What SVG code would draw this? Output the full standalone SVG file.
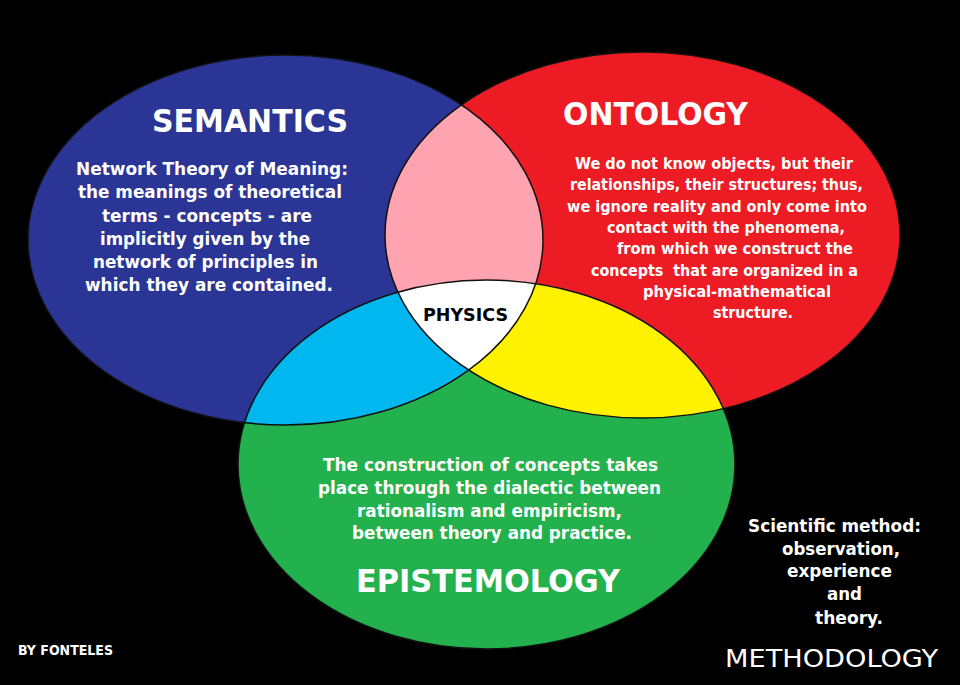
<svg xmlns="http://www.w3.org/2000/svg" width="960" height="685" viewBox="0 0 960 685">
<style>
.t{font-family:"DejaVu Sans Condensed","DejaVu Sans",sans-serif;font-weight:bold;fill:#ffffff;white-space:pre}
.h{font-size:32px}
.b18{font-size:18px}
.b16{font-size:16.5px}
.b17{font-size:17px}
.ph{fill:#000000}
.reg{font-weight:normal;font-size:25px}
.sm{font-size:13.5px}
.outline{fill:none;stroke:#111111;stroke-width:1.5}
</style>
<defs>
<clipPath id="cBlue"><ellipse cx="285.5" cy="240" rx="257.5" ry="185"/></clipPath>
<clipPath id="cRed"><ellipse cx="642.5" cy="235" rx="257.5" ry="183"/></clipPath>
</defs>
<rect x="0" y="0" width="960" height="685" fill="#000000"/>

<g id="semantics">
<ellipse cx="285.5" cy="240" rx="257.5" ry="185" fill="#2B3595"/>
</g>
<g id="ontology">
<ellipse cx="642.5" cy="235" rx="257.5" ry="183" fill="#ED1C24"/>
</g>
<g id="epistemology">
<ellipse cx="486.5" cy="464.5" rx="248.5" ry="184.5" fill="#22B14C"/>
</g>
<g id="semantics-ontology" clip-path="url(#cBlue)">
<ellipse cx="642.5" cy="235" rx="257.5" ry="183" fill="#FFA3B1"/>
</g>
<g id="semantics-epistemology" clip-path="url(#cBlue)">
<ellipse cx="486.5" cy="464.5" rx="248.5" ry="184.5" fill="#00B7EF"/>
</g>
<g id="ontology-epistemology" clip-path="url(#cRed)">
<ellipse cx="486.5" cy="464.5" rx="248.5" ry="184.5" fill="#FFF200"/>
</g>
<g id="physics">
<g clip-path="url(#cBlue)"><g clip-path="url(#cRed)">
<ellipse cx="486.5" cy="464.5" rx="248.5" ry="184.5" fill="#FFFFFF"/>
</g></g>
</g>
<g id="connectors">
<ellipse class="outline" cx="285.5" cy="240" rx="257.5" ry="185"/>
<ellipse class="outline" cx="642.5" cy="235" rx="257.5" ry="183"/>
<ellipse class="outline" cx="486.5" cy="464.5" rx="248.5" ry="184.5"/>
</g>

<g id="semantics-text">
<text class="t h" x="152" y="132" textLength="196" lengthAdjust="spacingAndGlyphs">SEMANTICS</text>
<text class="t b18" x="76" y="175" textLength="272" lengthAdjust="spacingAndGlyphs">Network Theory of Meaning:</text>
<text class="t b18" x="78" y="198" textLength="264" lengthAdjust="spacingAndGlyphs">the meanings of theoretical</text>
<text class="t b18" x="102" y="222" textLength="210" lengthAdjust="spacingAndGlyphs">terms - concepts - are</text>
<text class="t b18" x="100" y="245" textLength="210" lengthAdjust="spacingAndGlyphs">implicitly given by the</text>
<text class="t b18" x="93" y="268" textLength="225" lengthAdjust="spacingAndGlyphs">network of principles in</text>
<text class="t b18" x="85" y="291" textLength="248" lengthAdjust="spacingAndGlyphs">which they are contained.</text>
</g>
<g id="ontology-text">
<text class="t h" x="563" y="125" textLength="185" lengthAdjust="spacingAndGlyphs">ONTOLOGY</text>
<text class="t b16" x="575" y="169" textLength="278" lengthAdjust="spacingAndGlyphs">We do not know objects, but their</text>
<text class="t b16" x="570" y="190" textLength="293" lengthAdjust="spacingAndGlyphs">relationships, their structures; thus,</text>
<text class="t b16" x="567" y="211.5" textLength="300" lengthAdjust="spacingAndGlyphs">we ignore reality and only come into</text>
<text class="t b16" x="607" y="233" textLength="238" lengthAdjust="spacingAndGlyphs">contact with the phenomena,</text>
<text class="t b16" x="617" y="254" textLength="236" lengthAdjust="spacingAndGlyphs">from which we construct the</text>
<text class="t b16" x="591" y="275.5" textLength="267" lengthAdjust="spacingAndGlyphs">concepts  that are organized in a</text>
<text class="t b16" x="643" y="296.5" textLength="188" lengthAdjust="spacingAndGlyphs">physical-mathematical</text>
<text class="t b16" x="713" y="317.5" textLength="80" lengthAdjust="spacingAndGlyphs">structure.</text>
</g>
<g id="epistemology-text">
<text class="t b18" x="323" y="471" textLength="335" lengthAdjust="spacingAndGlyphs">The construction of concepts takes</text>
<text class="t b18" x="318" y="494" textLength="343" lengthAdjust="spacingAndGlyphs">place through the dialectic between</text>
<text class="t b18" x="357" y="517" textLength="265" lengthAdjust="spacingAndGlyphs">rationalism and empiricism,</text>
<text class="t b18" x="352" y="539" textLength="280" lengthAdjust="spacingAndGlyphs">between theory and practice.</text>
<text class="t h" x="356" y="592" textLength="264" lengthAdjust="spacingAndGlyphs">EPISTEMOLOGY</text>
</g>
<g id="physics-text">
<text class="t b17 ph" x="423" y="321" textLength="85" lengthAdjust="spacingAndGlyphs">PHYSICS</text>
</g>
<g id="methodology">
<text class="t b17" x="748" y="532" textLength="173" lengthAdjust="spacingAndGlyphs">Scientific method:</text>
<text class="t b17" x="782" y="555" textLength="118" lengthAdjust="spacingAndGlyphs">observation,</text>
<text class="t b17" x="787" y="577" textLength="105" lengthAdjust="spacingAndGlyphs">experience</text>
<text class="t b17" x="827" y="600" textLength="35" lengthAdjust="spacingAndGlyphs">and</text>
<text class="t b17" x="815" y="624" textLength="68" lengthAdjust="spacingAndGlyphs">theory.</text>
<text class="t reg" x="725" y="667" textLength="213" lengthAdjust="spacingAndGlyphs">METHODOLOGY</text>
</g>
<g id="credit">
<text class="t sm" x="18" y="655" textLength="95" lengthAdjust="spacingAndGlyphs">BY FONTELES</text>
</g>
</svg>
